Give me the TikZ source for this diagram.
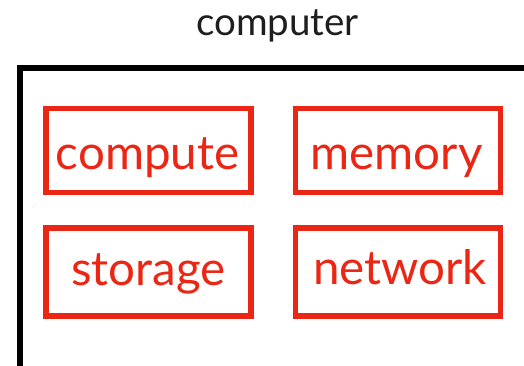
\documentclass[tikz,border=0pt]{standalone}
\usepackage{fontspec}
\setmainfont{Lato}
\definecolor{boxred}{RGB}{236,38,20}
\definecolor{titlegray}{RGB}{30,30,30}
\begin{document}
\begin{tikzpicture}[x=1pt,y=-1pt,
  redbox/.style={draw=boxred, line width=5.5pt, minimum width=205pt, minimum height=85pt, inner sep=0pt},
  redtext/.style={text=boxred, font=\fontsize{47.5}{50}\selectfont, inner sep=0pt, anchor=base},
  frame/.style={draw=black, line width=5.5pt}]
\useasboundingbox (0,0) rectangle (524,366);
\clip (0,0) rectangle (524,366);
\fill[white] (0,0) rectangle (524,366);
\node[font=\fontsize{38.5}{40}\selectfont, text=titlegray, inner sep=0pt, anchor=base] (title) at (277.5,36) {computer};
\coordinate (fbl) at (20,380);
\coordinate (ftl) at (20,68);
\coordinate (ftr) at (540,68);
\draw[frame] (fbl) -- (ftl) -- (ftr);
\node[redbox, minimum height=84pt] (compute) at (148.5,150.5) {};
\node[redbox, minimum height=84pt] (memory) at (398,150.5) {};
\node[redbox, minimum height=88pt] (storage) at (148.5,272) {};
\node[redbox, minimum height=88pt] (network) at (398,272) {};
\node[redtext] (computeT) at (147.5,169) {compute};
\node[redtext] (memoryT) at (396.5,170) {memory};
\node[redtext] (storageT) at (148.5,285) {storage};
\node[redtext] (networkT) at (400,284.5) {network};
\end{tikzpicture}
\end{document}
